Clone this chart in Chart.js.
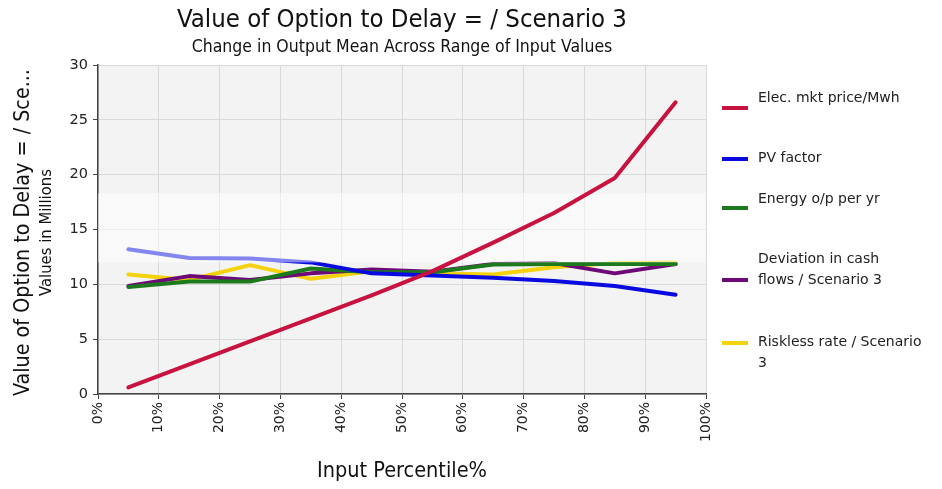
<!DOCTYPE html>
<html>
<head>
<meta charset="utf-8">
<script src="https://cdn.jsdelivr.net/npm/chart.js@4.4.0/dist/chart.umd.min.js"></script>
<style>
html, body { margin: 0; padding: 0; background: #fff; }
#wrap { width: 942px; height: 489px; position: relative; }
</style>
</head>
<body>
<div id="wrap"><canvas id="sensChart" width="942" height="489"></canvas></div>
<script>
// Input percentiles (x) and output means for each input (Values in Millions)
const percentiles = [5, 15, 25, 35, 45, 55, 65, 75, 85, 95];
const elecPrice   = [0.6, 2.7, 4.8, 6.9, 9.0, 11.2, 13.8, 16.5, 19.7, 26.6];
const pvFactor    = [13.2, 12.4, 12.35, 12.0, 11.0, 10.8, 10.6, 10.3, 9.85, 9.05];
const energyOut   = [9.75, 10.25, 10.25, 11.45, 11.1, 11.1, 11.8, 11.85, 11.85, 11.85];
const cashDev     = [9.85, 10.75, 10.4, 11.0, 11.35, 11.15, 11.85, 11.95, 11.0, 11.85];
const risklessRate = [10.9, 10.4, 11.75, 10.5, 11.2, 11.0, 10.9, 11.55, 11.95, 12.0];
const xTicks = [0, 10, 20, 30, 40, 50, 60, 70, 80, 90, 100];
const yTicks = [0, 5, 10, 15, 20, 25, 30];

const seriesNames = ['Elec. mkt price/Mwh', 'PV factor', 'Energy o/p per yr',
  'Deviation in cash flows / Scenario 3', 'Riskless rate / Scenario 3'];
const seriesColors = ['#c8123f', '#0a0ae0', '#1c7a1c', '#6e0a78', '#f4d20e'];
const seriesData = [elecPrice, pvFactor, energyOut, cashDev, risklessRate];

// legend layout: wrapped lines and the row the swatch sits on
const legendLines = [
  ['Elec. mkt price/Mwh'],
  ['PV factor'],
  ['Energy o/p per yr'],
  ['Deviation in cash', 'flows / Scenario 3'],
  ['Riskless rate / Scenario', '3']
];
const legendTextY = [98, 158, 199, 259, 342];
const legendSwatchY = [108, 159, 208, 280, 343];

const FONT = '"DejaVu Sans", Verdana, sans-serif';
const TFONT = '"Liberation Sans Narrow", "DejaVu Sans Condensed", "Liberation Sans", sans-serif';

const decorPlugin = {
  id: 'decor',
  beforeDraw(chart) {
    const { ctx, chartArea: a } = chart;
    ctx.save();
    ctx.fillStyle = '#f3f3f3';
    ctx.fillRect(a.left, a.top, a.right - a.left, a.bottom - a.top);
    ctx.restore();
  },
  afterDatasetDraw(chart, args) {
    // faint watermark band, laid over everything except the red series
    if (args.index !== 1) return;
    const { ctx, chartArea: a, scales } = chart;
    const y1 = scales.y.getPixelForValue(18.3);
    const y2 = scales.y.getPixelForValue(12.0);
    ctx.save();
    ctx.fillStyle = 'rgba(255,255,255,0.5)';
    ctx.fillRect(a.left, y1, a.right - a.left, y2 - y1);
    ctx.restore();
  },
  afterDraw(chart) {
    const { ctx, chartArea: a } = chart;
    const cx = (a.left + a.right) / 2;
    const cy = (a.top + a.bottom) / 2 + 3;
    ctx.save();
    ctx.fillStyle = '#111';
    ctx.textAlign = 'center';
    ctx.textBaseline = 'middle';
    ctx.font = '25.5px ' + TFONT;
    ctx.fillText('Value of Option to Delay = / Scenario 3', cx, 20);
    ctx.font = '17.5px ' + TFONT;
    ctx.fillText('Change in Output Mean Across Range of Input Values', cx, 47);
    ctx.font = '21.5px ' + TFONT;
    ctx.fillText('Input Percentile%', cx, 471);

    ctx.save();
    ctx.translate(23, cy);
    ctx.rotate(-Math.PI / 2);
    ctx.font = '21.3px ' + TFONT;
    ctx.fillText('Value of Option to Delay = / Sce...', 0, 0);
    ctx.restore();
    ctx.save();
    ctx.translate(47, cy);
    ctx.rotate(-Math.PI / 2);
    ctx.font = '16.5px ' + TFONT;
    ctx.fillText('Values in Millions', 0, 0);
    ctx.restore();

    // legend
    ctx.textAlign = 'left';
    ctx.font = '14px ' + FONT;
    ctx.lineWidth = 4;
    legendLines.forEach((lines, i) => {
      ctx.strokeStyle = seriesColors[i];
      ctx.beginPath();
      ctx.moveTo(722, legendSwatchY[i]);
      ctx.lineTo(748, legendSwatchY[i]);
      ctx.stroke();
      lines.forEach((t, j) => {
        ctx.fillStyle = '#222';
        ctx.fillText(t, 758, legendTextY[i] + j * 21);
      });
    });
    ctx.restore();
  }
};

new Chart(document.getElementById('sensChart'), {
  type: 'line',
  data: {
    datasets: seriesData.map((vals, i) => ({
      label: seriesNames[i],
      data: vals.map((v, k) => ({ x: percentiles[k], y: v })),
      borderColor: seriesColors[i],
      backgroundColor: seriesColors[i],
      borderWidth: 4,
      borderCapStyle: 'round',
      borderJoinStyle: 'round',
      pointRadius: 0,
      tension: 0,
      fill: false
    }))
  },
  options: {
    responsive: false,
    animation: false,
    layout: { padding: { top: 65, right: 236, left: 0, bottom: 0 } },
    plugins: {
      legend: { display: false },
      title: { display: false },
      tooltip: { enabled: false }
    },
    scales: {
      x: {
        type: 'linear',
        min: 0,
        max: 100,
        afterBuildTicks: s => { s.ticks = xTicks.map(v => ({ value: v })); },
        afterFit: s => { s.height = 95; },
        border: { color: '#444', width: 1.5 },
        grid: { color: '#d9d9d9', tickColor: '#444', tickLength: 5 },
        ticks: {
          maxRotation: 90,
          minRotation: 90,
          padding: 3,
          color: '#222',
          font: { family: FONT, size: 14 },
          callback: v => v + '%'
        }
      },
      y: {
        min: 0,
        max: 30,
        afterBuildTicks: s => { s.ticks = yTicks.map(v => ({ value: v })); },
        afterFit: s => { s.width = 98; },
        border: { color: '#444', width: 1.5 },
        grid: { color: '#d9d9d9', tickColor: '#444', tickLength: 5 },
        ticks: {
          padding: 5,
          color: '#222',
          font: { family: FONT, size: 14.5 }
        }
      }
    }
  },
  plugins: [decorPlugin]
});
</script>
</body>
</html>
